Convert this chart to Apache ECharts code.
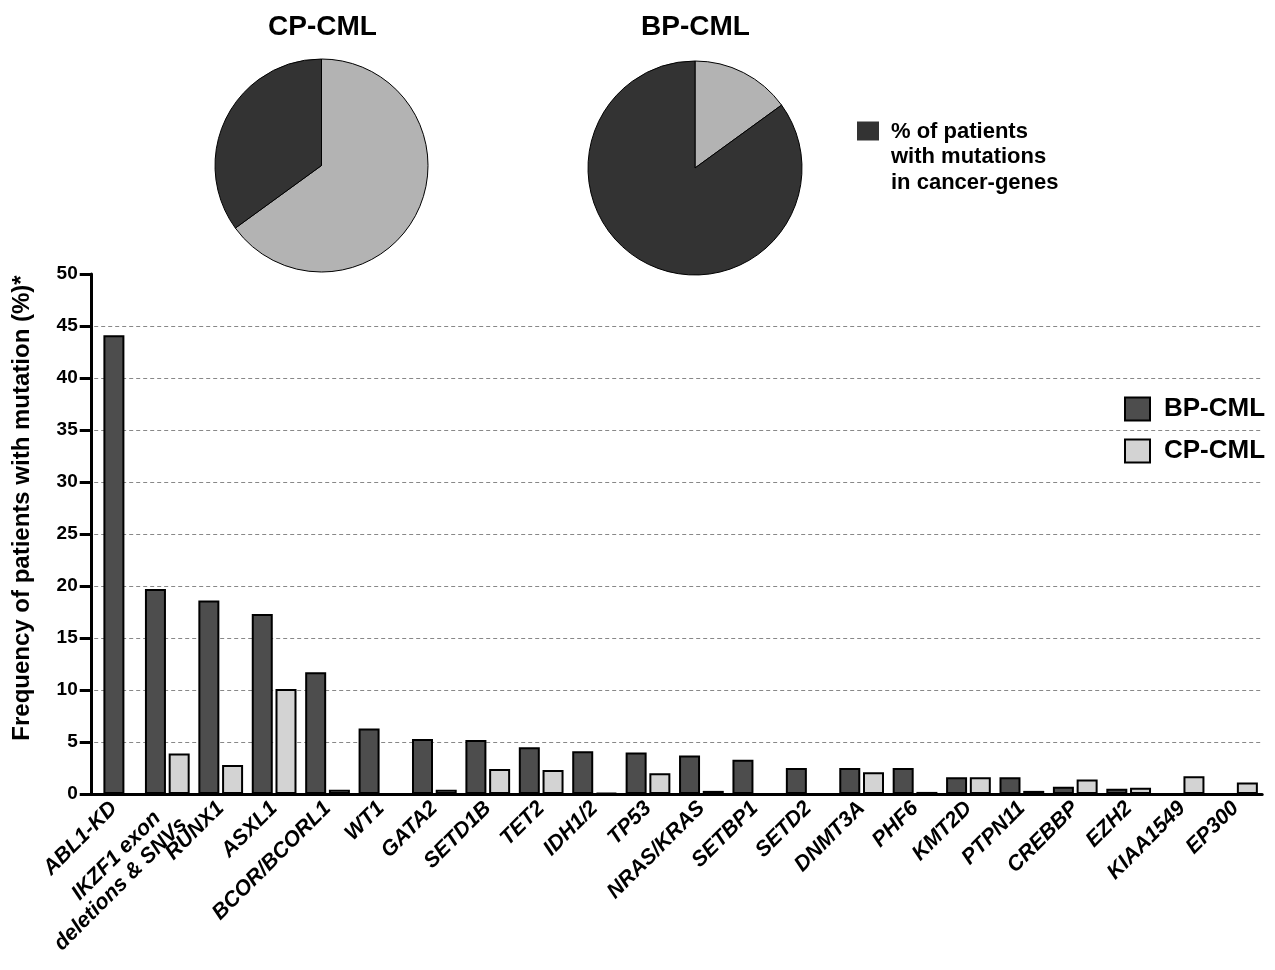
<!DOCTYPE html>
<html>
<head>
<meta charset="utf-8">
<script src="https://cdn.jsdelivr.net/npm/echarts@6/dist/echarts.min.js"></script>
<style>
  html, body { margin: 0; padding: 0; background: #fff; }
  #chart { width: 1275px; height: 970px; }
</style>
</head>
<body>
<div id="chart"></div>
<script>
// Genes, in plotted order
const categories = [
  'ABL1-KD', 'IKZF1 exon\ndeletions & SNVs', 'RUNX1', 'ASXL1', 'BCOR/BCORL1',
  'WT1', 'GATA2', 'SETD1B', 'TET2', 'IDH1/2', 'TP53', 'NRAS/KRAS', 'SETBP1',
  'SETD2', 'DNMT3A', 'PHF6', 'KMT2D', 'PTPN11', 'CREBBP', 'EZH2', 'KIAA1549', 'EP300'
];

// Frequency of patients with mutation (%), blast phase
const bpValues = [44.1, 19.7, 18.6, 17.3, 11.7, 6.3, 5.3, 5.2, 4.5, 4.1, 4.0, 3.7, 3.3,
                  2.5, 2.5, 2.5, 1.6, 1.6, 0.7, 0.5, null, null];
// Frequency of patients with mutation (%), chronic phase
const cpValues = [null, 3.9, 2.8, 10.1, 0.4, null, 0.4, 2.4, 2.3, 0.1, 2.0, 0.3, null,
                  null, 2.1, 0.2, 1.6, 0.3, 1.4, 0.6, 1.7, 1.1];

// ABL1-KD is only assessed in blast phase, so its bar sits centred on its tick
const singleGene = 'ABL1-KD';

// Share of patients with mutations in cancer genes (%)
const pieLegendName = '% of patients\nwith mutations\nin cancer-genes';
const cpPie = { mutated: 35, other: 65 };
const bpPie = { mutated: 85, other: 15 };

const yTicks = { min: 0, max: 50, interval: 5 };

const bpPaired = bpValues.map((v, i) => categories[i] === singleGene ? null : v);
const bpSingle = bpValues.map((v, i) => categories[i] === singleGene ? v : null);

const FONT = '"Liberation Sans", Arial, Helvetica, sans-serif';
const DARK = '#4d4d4d', LIGHT = '#d3d3d3';
const PIE_DARK = '#333333', PIE_LIGHT = '#b3b3b3';
const LABEL_SIZE = 21.5;
const LABEL_LINE = 23;

const barStyle = (c) => ({ color: c, borderColor: '#000', borderWidth: 2 });

// Multi-line gene names: first line sits where a one-line name would,
// the second hangs below it and runs slightly further out.
function geneLabel(v) {
  if (v.indexOf('\n') < 0) return v;
  const lines = v.split('\n');
  return '{b| }\n{a|' + lines[0] + '}\n' + lines.slice(1).map(s => '{b|' + s + '}').join('\n');
}

const labelFont = { fontFamily: FONT, fontSize: LABEL_SIZE, fontWeight: 'bold',
                    fontStyle: 'italic', lineHeight: LABEL_LINE, color: '#000' };

function pieSeries(center, radius, d) {
  return {
    type: 'pie', center: center, radius: radius, startAngle: 90, clockwise: true,
    silent: true, label: { show: false }, labelLine: { show: false },
    emphasis: { disabled: true },
    itemStyle: { borderColor: '#000', borderWidth: 1 },
    data: [
      { name: 'no mutations', value: d.other, itemStyle: { color: PIE_LIGHT } },
      { name: pieLegendName, value: d.mutated, itemStyle: { color: PIE_DARK } }
    ]
  };
}

const chart = echarts.init(document.getElementById('chart'), null, { renderer: 'canvas' });

chart.setOption({
  animation: false,
  backgroundColor: '#fff',
  textStyle: { fontFamily: FONT },
  title: [
    { text: 'CP-CML', left: 263, top: 8,
      textStyle: { fontFamily: FONT, fontSize: 28, fontWeight: 'bold', color: '#000' } },
    { text: 'BP-CML', left: 636, top: 8,
      textStyle: { fontFamily: FONT, fontSize: 28, fontWeight: 'bold', color: '#000' } }
  ],
  legend: {
    data: ['BP-CML', 'CP-CML'], orient: 'vertical', left: 1124, top: 394, padding: 0,
    itemWidth: 25, itemHeight: 23, itemGap: 12, icon: 'rect', selectedMode: false,
    itemStyle: { borderColor: '#000', borderWidth: 2 },
    textStyle: { fontFamily: FONT, fontSize: 26, fontWeight: 'bold', color: '#000',
                 lineHeight: 30, padding: [0, 0, 0, 9] }
  },
  // key for the two pies: swatch plus three-line caption
  graphic: [
    { type: 'rect', left: 857, top: 121.5, shape: { width: 22, height: 19 },
      style: { fill: PIE_DARK }, silent: true },
    { type: 'text', x: 891, y: 119, silent: true,
      style: { text: pieLegendName, fontFamily: FONT, fontSize: 22, fontWeight: 'bold',
               fill: '#000', lineHeight: 25.5, verticalAlign: 'top', align: 'left' } }
  ],
  grid: { left: 87.2, right: 12.8, top: 274, bottom: 176, containLabel: false },
  xAxis: [
    {
      type: 'category', data: categories, gridIndex: 0,
      axisLine: { lineStyle: { color: '#000', width: 3 } },
      axisTick: { alignWithLabel: true, length: 12, lineStyle: { color: '#000', width: 3 } },
      axisLabel: Object.assign({
        interval: 0, rotate: 45, margin: 11,
        formatter: geneLabel,
        rich: {
          a: Object.assign({ align: 'right', padding: [0, 14, 0, 0] }, labelFont),
          b: Object.assign({ align: 'right' }, labelFont)
        }
      }, labelFont),
      splitLine: { show: false }
    },
    { type: 'category', data: categories, gridIndex: 0, show: false }
  ],
  yAxis: {
    type: 'value', min: yTicks.min, max: yTicks.max, interval: yTicks.interval, offset: -4.5,
    name: 'Frequency of patients with mutation (%)*', nameLocation: 'middle', nameGap: 57,
    nameTextStyle: { fontFamily: FONT, fontSize: 24, fontWeight: 'bold', color: '#000',
                     padding: [0, 0, 0, 52] },
    axisLine: { show: true, lineStyle: { color: '#000', width: 3 } },
    axisTick: { show: true, length: 12, lineStyle: { color: '#000', width: 3 } },
    axisLabel: { color: '#000', fontFamily: FONT, fontSize: 19, fontWeight: 'bold', margin: 14 },
    splitLine: { show: true, showMinLine: false, showMaxLine: false,
                 lineStyle: { color: '#888', width: 1, type: [4, 3] } }
  },
  series: [
    { name: 'BP-CML', type: 'bar', xAxisIndex: 0, data: bpPaired, barWidth: 21, barGap: '13%',
      itemStyle: barStyle(DARK), silent: true },
    { name: 'CP-CML', type: 'bar', xAxisIndex: 0, data: cpValues, barWidth: 21, barGap: '13%',
      itemStyle: barStyle(LIGHT), silent: true },
    { name: 'BP-CML', type: 'bar', xAxisIndex: 1, data: bpSingle, barWidth: 21,
      itemStyle: barStyle(DARK), silent: true },
    pieSeries([321.5, 165.5], 106.5, cpPie),
    pieSeries([695, 168], 107, bpPie)
  ]
});
</script>
</body>
</html>
